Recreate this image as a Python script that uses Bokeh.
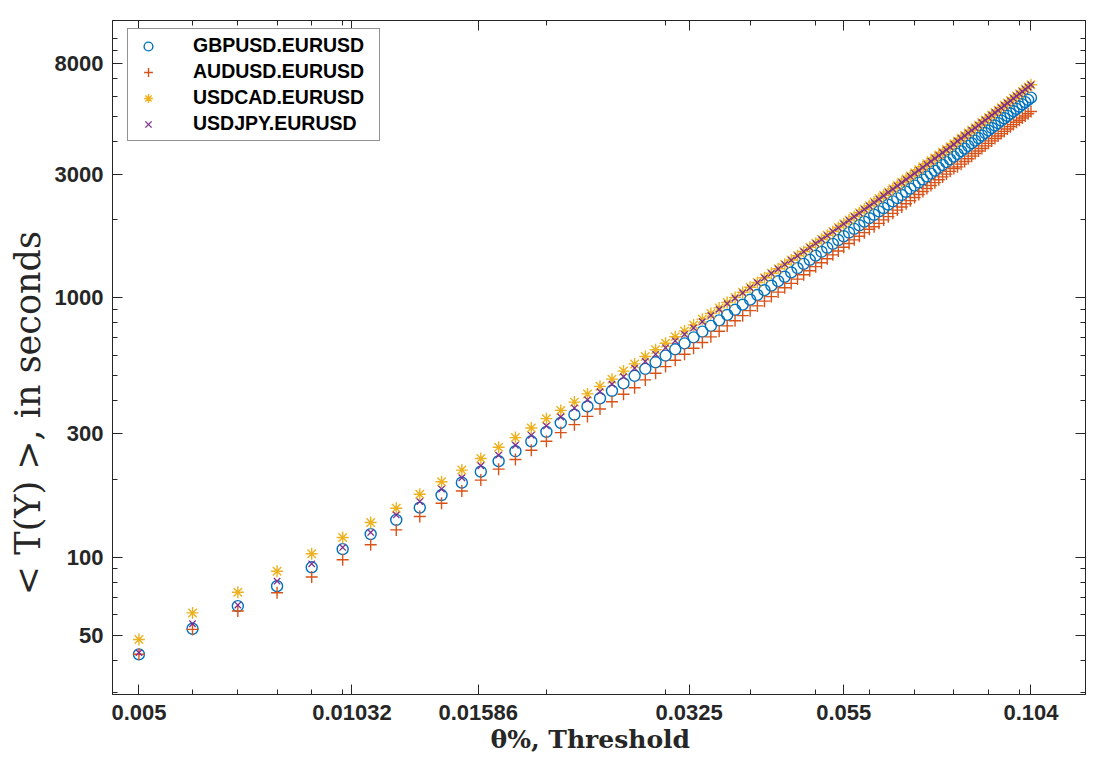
from bokeh.plotting import figure
from bokeh.models import FixedTicker, LogAxis, Range1d, CustomJSTickFormatter
from bokeh.embed import file_html
from bokeh.resources import INLINE

# ---------------- data ----------------
threshold = [0.005, 0.006, 0.007, 0.008, 0.009, 0.010, 0.011, 0.012, 0.013, 0.014,
             0.015, 0.016, 0.017, 0.018, 0.019, 0.020, 0.021, 0.022, 0.023, 0.024,
             0.025, 0.026, 0.027, 0.028, 0.029, 0.030, 0.031, 0.032, 0.033, 0.034,
             0.035, 0.036, 0.037, 0.038, 0.039, 0.040, 0.041, 0.042, 0.043, 0.044,
             0.045, 0.046, 0.047, 0.048, 0.049, 0.050, 0.051, 0.052, 0.053, 0.054,
             0.055, 0.056, 0.057, 0.058, 0.059, 0.060, 0.061, 0.062, 0.063, 0.064,
             0.065, 0.066, 0.067, 0.068, 0.069, 0.070, 0.071, 0.072, 0.073, 0.074,
             0.075, 0.076, 0.077, 0.078, 0.079, 0.080, 0.081, 0.082, 0.083, 0.084,
             0.085, 0.086, 0.087, 0.088, 0.089, 0.090, 0.091, 0.092, 0.093, 0.094,
             0.095, 0.096, 0.097, 0.098, 0.099, 0.100, 0.101, 0.102, 0.103, 0.104]

gbpusd = [42.15, 52.9, 64.7, 77.2, 91.3, 107.3, 122.6, 139.1, 155.2, 173.5,
          193.6, 213.4, 234.3, 256.0, 279.6, 303.9, 329.1, 354.1, 381.1, 409.7,
          437.9, 467.9, 500.0, 531.8, 564.2, 598.3, 633.2, 667.5, 703.9, 740.9,
          779.2, 818.8, 858.8, 899.2, 940.8, 983.3, 1026, 1070, 1114, 1159,
          1206, 1253, 1302, 1352, 1402, 1454, 1506, 1560, 1615, 1671,
          1728, 1786, 1845, 1905, 1966, 2028, 2091, 2155, 2221, 2287,
          2355, 2424, 2493, 2565, 2636, 2710, 2784, 2859, 2936, 3014,
          3093, 3173, 3254, 3337, 3420, 3506, 3591, 3678, 3767, 3857,
          3948, 4040, 4133, 4228, 4325, 4423, 4521, 4621, 4722, 4824,
          4928, 5033, 5139, 5247, 5355, 5465, 5577, 5689, 5804, 5919]

audusd = [42.2, 52.6, 61.9, 72.8, 83.8, 97.6, 111.5, 127.3, 143.3, 161.2,
          179.7, 198.1, 218.3, 237.9, 258.2, 279.7, 302.1, 324.2, 348.9, 372.7,
          397.3, 424.5, 450.0, 482.5, 511.9, 542.8, 574.5, 605.6, 638.6, 672.2,
          707.0, 742.9, 779.2, 815.8, 853.6, 892.2, 930.9, 970.8, 1011, 1052,
          1094, 1137, 1181, 1227, 1272, 1319, 1366, 1415, 1465, 1516,
          1568, 1620, 1674, 1728, 1784, 1840, 1881, 1938, 1998, 2057,
          2118, 2180, 2242, 2307, 2371, 2437, 2504, 2571, 2641, 2711,
          2782, 2854, 2927, 3001, 3076, 3153, 3201, 3279, 3358, 3438,
          3520, 3602, 3685, 3769, 3856, 3943, 4030, 4120, 4210, 4301,
          4386, 4479, 4574, 4659, 4755, 4842, 4941, 5029, 5131, 5232]

usdcad = [48.1, 60.9, 73.2, 88.2, 103.0, 119.0, 136.0, 154.3, 174.6, 195.2,
          216.5, 240.1, 265.2, 289.0, 314.6, 341.9, 368.0, 396.0, 426.0, 455.6,
          485.6, 521.7, 556.0, 594.0, 630.2, 668.3, 707.3, 745.6, 786.3, 827.6,
          870.4, 914.6, 959.3, 1004, 1051, 1098, 1146, 1195, 1244, 1295,
          1347, 1400, 1454, 1510, 1566, 1624, 1682, 1743, 1804, 1867,
          1930, 1995, 2061, 2128, 2196, 2265, 2342, 2414, 2488, 2561,
          2638, 2715, 2792, 2873, 2952, 3035, 3118, 3202, 3288, 3376,
          3464, 3554, 3644, 3737, 3830, 3927, 4029, 4127, 4227, 4328,
          4430, 4533, 4637, 4744, 4853, 4963, 5073, 5185, 5298, 5413,
          5529, 5647, 5766, 5887, 6008, 6132, 6257, 6383, 6512, 6641]

usdjpy = [42.8, 55.3, 65.3, 80.7, 94.2, 108.9, 124.4, 145.4, 163.7, 183.0,
          202.3, 225.0, 247.1, 270.0, 294.8, 320.5, 347.0, 375.7, 404.3, 434.3,
          464.6, 496.4, 535.3, 568.3, 605.6, 642.2, 682.6, 722.8, 765.6, 809.4,
          855.1, 902.5, 949.1, 996.4, 1044, 1093, 1144, 1193, 1242, 1292,
          1345, 1397, 1452, 1507, 1563, 1621, 1679, 1739, 1801, 1863,
          1927, 1991, 2057, 2124, 2192, 2261, 2331, 2403, 2476, 2550,
          2626, 2703, 2780, 2860, 2939, 3022, 3104, 3188, 3274, 3361,
          3449, 3538, 3628, 3721, 3813, 3909, 4022, 4119, 4219, 4320,
          4422, 4525, 4629, 4735, 4844, 4954, 5064, 5176, 5289, 5403,
          5519, 5637, 5756, 5877, 5998, 6121, 6246, 6372, 6500, 6629]

series_names = ["GBPUSD.EURUSD", "AUDUSD.EURUSD", "USDCAD.EURUSD", "USDJPY.EURUSD"]

x_tick_values = [0.005, 0.01032, 0.01586, 0.0325, 0.055, 0.104]
x_tick_labels = ["0.005", "0.01032", "0.01586", "0.0325", "0.055", "0.104"]
x_minor_ticks = [0.005, 0.006, 0.007, 0.008, 0.009, 0.01, 0.02, 0.03, 0.04, 0.05,
                 0.06, 0.07, 0.08, 0.09, 0.1]
y_tick_values = [50, 100, 300, 1000, 3000, 8000]
y_tick_labels = ["50", "100", "300", "1000", "3000", "8000"]
y_minor_ticks = [30, 40, 50, 60, 70, 80, 90, 100, 200, 300, 400, 500, 600, 700, 800, 900,
                 1000, 2000, 3000, 4000, 5000, 6000, 7000, 8000, 9000, 10000]

x_title = "θ%, Threshold" + "\u00a0" * 2
y_title = "<  T(Y)  >, in seconds" + "\u00a0" * 8

# ---------------- figure ----------------
AX = "#262626"
p = figure(width=1087, height=762, x_axis_type="log", y_axis_type="log",
           x_range=Range1d(0.00457, 0.1252), y_range=Range1d(29.5, 11744),
           output_backend="svg", toolbar_location=None,
           min_border_left=112, min_border_right=2, min_border_top=20, min_border_bottom=68)
p.background_fill_color = "white"
p.border_fill_color = "white"
p.outline_line_color = AX
p.outline_line_width = 1
p.xgrid.visible = False
p.ygrid.visible = False

fmt_code = """
for (let i = 0; i < vals.length; i++) {
  if (Math.abs(vals[i] - tick) <= 1e-6 * Math.abs(vals[i])) return labs[i];
}
return "";
"""
x_fmt = CustomJSTickFormatter(args=dict(vals=x_tick_values, labs=x_tick_labels), code=fmt_code)
y_fmt = CustomJSTickFormatter(args=dict(vals=y_tick_values, labs=y_tick_labels), code=fmt_code)


def style_axis(ax, show_labels):
    ax.axis_line_color = AX
    ax.axis_line_width = 1
    ax.major_tick_line_color = AX
    ax.minor_tick_line_color = AX
    ax.major_tick_in = 10
    ax.major_tick_out = 0
    ax.minor_tick_in = 5
    ax.minor_tick_out = 0
    if show_labels:
        ax.major_label_text_font = "Liberation Sans"
        ax.major_label_text_font_style = "bold"
        ax.major_label_text_font_size = "22px"
        ax.major_label_text_color = AX
    else:
        ax.major_label_text_font_size = "1px"
        ax.major_label_text_color = None
        ax.major_label_standoff = 0


xa = p.xaxis[0]
xa.ticker = FixedTicker(ticks=x_tick_values, minor_ticks=x_minor_ticks)
xa.formatter = x_fmt
style_axis(xa, True)
xa.major_label_standoff = 10
xa.axis_label = x_title
xa.axis_label_text_font = "DejaVu Serif"
xa.axis_label_text_font_style = "bold"
xa.axis_label_text_font_size = "25px"
xa.axis_label_text_color = AX
xa.axis_label_standoff = 2

ya = p.yaxis[0]
ya.ticker = FixedTicker(ticks=y_tick_values, minor_ticks=y_minor_ticks)
ya.formatter = y_fmt
style_axis(ya, True)
ya.major_label_standoff = 9
ya.axis_label = y_title
ya.axis_label_text_font = "DejaVu Serif"
ya.axis_label_text_font_style = "normal"
ya.axis_label_text_font_size = "35px"
ya.axis_label_text_color = AX
ya.axis_label_standoff = 4

top = LogAxis(ticker=FixedTicker(ticks=x_tick_values, minor_ticks=x_minor_ticks), formatter=x_fmt)
style_axis(top, False)
p.add_layout(top, "above")
right = LogAxis(ticker=FixedTicker(ticks=y_tick_values, minor_ticks=y_minor_ticks), formatter=y_fmt)
style_axis(right, False)
p.add_layout(right, "right")

# ---------------- series ----------------
p.scatter(threshold, gbpusd, marker="circle", size=11, fill_color=None,
          line_color="#0072BD", line_width=1.4, legend_label=series_names[0])
p.scatter(threshold, audusd, marker="cross", size=12,
          line_color="#D95319", line_width=1.4, legend_label=series_names[1])
p.scatter(threshold, usdcad, marker="asterisk", size=12,
          line_color="#EDB120", line_width=1.4, legend_label=series_names[2])
p.scatter(threshold, usdjpy, marker="x", size=9,
          line_color="#7E2F8E", line_width=1.3, legend_label=series_names[3])

lg = p.legend[0]
lg.location = (15, 553)
lg.padding = 5
lg.spacing = 3
lg.glyph_width = 30
lg.glyph_height = 22
lg.label_height = 22
lg.label_standoff = 30
lg.label_width = 181
lg.label_text_font = "Liberation Sans"
lg.label_text_font_style = "bold"
lg.label_text_font_size = "19.5px"
lg.label_text_color = "black"
lg.border_line_color = AX
lg.border_line_width = 1
lg.background_fill_color = "white"
lg.background_fill_alpha = 1.0

open("out.html", "w").write(file_html(p, INLINE))
